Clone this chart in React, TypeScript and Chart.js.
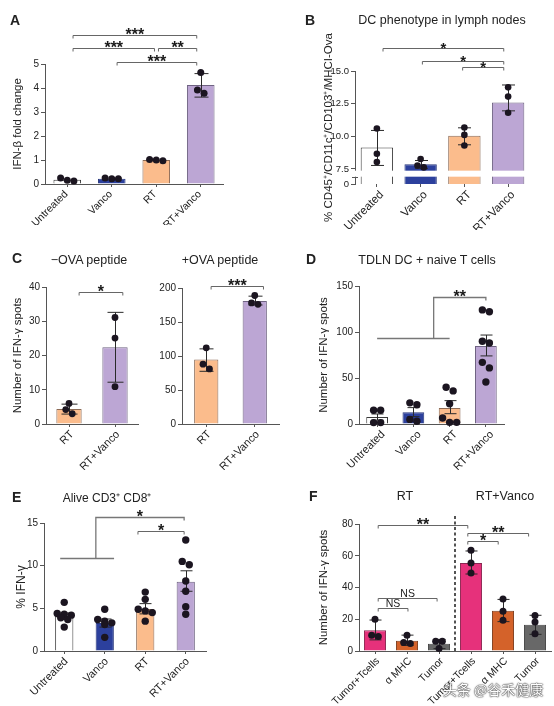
import React, { useEffect, useRef } from 'react';
import { Chart, registerables } from 'chart.js';
Chart.register(...registerables);

const FONT = "'Liberation Sans', Arial, Helvetica, sans-serif";
Chart.defaults.font.family = FONT;
Chart.defaults.color = '#222';

const AXIS = '#555';
const BRACKET = '#666';
const TXT = '#222';
const DOT = '#1b1520';

// ---------- colours ----------
const FILL4 = ['#ffffff', '#2c409d', '#fbbc8c', '#bca6d4'];
const EDGE4 = ['#3a3a3a', '#27367a', '#8b6a55', '#6f6382'];
const FILL2 = ['#fbbc8c', '#bca6d4'];
const EDGE2 = ['#8b6a55', '#6f6382'];
const FILLF = ['#e6317b', '#d4622a', '#686868', '#e6317b', '#d4622a', '#686868'];
const EDGEF = ['#8a2550', '#7e3d1e', '#444444', '#8a2550', '#7e3d1e', '#444444'];

// ---------- Panel A ----------
const groupsA = ['Untreated', 'Vanco', 'RT', 'RT+Vanco'];
const barsA = [0.18, 0.22, 1.0, 4.12];
const dotsA = [[0.25, 0.16, 0.12], [0.25, 0.22, 0.22], [0.97, 1.02, 1.0], [4.65, 3.92, 3.78]];
const errA = [null, null, null, [3.62, 4.6]];
const ticksA = [0, 1, 2, 3, 4, 5];

// ---------- Panel B ----------
const groupsB = ['Untreated', 'Vanco', 'RT', 'RT+Vanco'];
const barsB = [9.15, 7.87, 10.04, 12.58];
const dotsB = [[10.6, 8.66, 8.03], [8.26, 7.77, 7.62], [10.67, 10.11, 9.3], [13.75, 13.04, 11.8]];
const errB = [[7.77, 10.45], [7.55, 8.15], [9.35, 10.65], [11.95, 13.93]];
const ticksB = [0, 7.5, 10, 12.5, 15];
const breakBaseB = 6.35; // value at which the broken axis shows "0"

// ---------- Panel C ----------
const groupsC = ['RT', 'RT+Vanco'];
const barsC1 = [4.4, 22.4];
const dotsC1 = [[6.0, 4.2, 3.0], [31.1, 25.1, 10.9]];
const errC1 = [[2.9, 5.8], [12.2, 32.6]];
const ticksC1 = [0, 10, 20, 30, 40];
const barsC2 = [95, 181];
const dotsC2 = [[112, 88, 81], [189, 178, 176]];
const errC2 = [[77.5, 110.5], [175, 188]];
const ticksC2 = [0, 50, 100, 150, 200];

// ---------- Panel D ----------
const groupsD = ['Untreated', 'Vanco', 'RT', 'RT+Vanco'];
const barsD = [7.6, 12.7, 17.4, 84.8];
const dotsD = [[15, 15, 1.5, 1.5], [23, 21, 5, 3], [40, 36, 22, 6.5, 1.8, 1.8], [124, 122, 90, 88, 67, 61, 45.6]];
const errD = [[4.2, 10.9], [8.0, 17.8], [11.2, 25.4], [74, 96.7]];
const ticksD = [0, 50, 100, 150];

// ---------- Panel E ----------
const groupsE = ['Untreated', 'Vanco', 'RT', 'RT+Vanco'];
const barsE = [4.06, 3.28, 4.92, 8.12];
const dotsE = [[5.7, 4.4, 4.3, 4.2, 3.9, 3.7, 2.8], [4.9, 3.7, 3.5, 3.3, 3.1, 1.6], [6.9, 6.05, 4.9, 4.7, 4.5, 3.5], [13.0, 10.5, 10.1, 8.2, 7.0, 5.2, 4.3]];
const errE = [[3.7, 4.45], [2.8, 3.75], [4.35, 5.55], [7.0, 9.4]];
const ticksE = [0, 5, 10, 15];

// ---------- Panel F ----------
const groupsF = ['Tumor+Tcells', 'α MHC', 'Tumor', 'Tumor+Tcells', 'α MHC', 'Tumor'];
const barsF = [13, 6.5, 4.6, 55.5, 25.4, 16.6];
const dotsF = [[20, 9.9, 9.2], [10, 5.4, 4.8], [6.1, 6.1, 1.5], [63.4, 55.4, 49.2], [32.8, 25, 19.3], [22.3, 18.3, 10.9]];
const errF = [[7, 19.5], [3.5, 10], [1.5, 7.3], [48.5, 63], [18.5, 32.5], [10.5, 22.5]];
const ticksF = [0, 20, 40, 60, 80];

type Bracket = { x1: number; x2: number; y: number; text: string };
type Group = { x1: number; x2: number; xv: number; yLow: number; yHigh: number; target: number; text: string };

const bracketsA: Bracket[] = [
  { x1: 0.13, x2: 2.91, y: 6.2, text: '***' },
  { x1: 0.13, x2: 1.96, y: 5.65, text: '***' },
  { x1: 2.05, x2: 2.91, y: 5.65, text: '**' },
  { x1: 1.12, x2: 2.91, y: 5.08, text: '***' },
];
const bracketsB: Bracket[] = [
  { x1: 0.14, x2: 2.9, y: 16.76, text: '*' },
  { x1: 1.04, x2: 2.9, y: 15.77, text: '*' },
  { x1: 1.96, x2: 2.9, y: 15.3, text: '*' },
];
const bracketsC1: Bracket[] = [{ x1: 0.22, x2: 1.17, y: 38.4, text: '*' }];
const bracketsC2: Bracket[] = [{ x1: 0.1, x2: 1.18, y: 203, text: '***' }];
const groupsDsig: Group[] = [{ x1: 0, x2: 2, xv: 1.56, yLow: 93.5, yHigh: 138, target: 3, text: '**' }];
const groupsEsig: Group[] = [{ x1: -0.1, x2: 1.23, xv: 0.78, yLow: 10.9, yHigh: 15.7, target: 2.96, text: '*' }];
const bracketsE: Bracket[] = [{ x1: 1.82, x2: 2.96, y: 14.05, text: '*' }];
const bracketsF: Bracket[] = [
  { x1: 0.1, x2: 2.9, y: 79.4, text: '**' },
  { x1: 2.9, x2: 4.8, y: 74.3, text: '**' },
  { x1: 2.9, x2: 3.85, y: 69.3, text: '*' },
  { x1: 0.1, x2: 1.94, y: 33.4, text: 'NS' },
  { x1: 0.1, x2: 1.03, y: 27.1, text: 'NS' },
];

interface Spec {
  left: number; top: number; width: number; height: number;
  area: { left: number; right: number; top: number; bottom: number };
  labels: string[]; bars: number[]; dots: number[][]; errs: (number[] | null)[];
  fill: string[]; edge: string[]; barPct: number;
  yMin: number; yMax: number; yTicks: number[]; fmt?: (v: number) => string;
  yTitle: string; yTitleX: number;
  tickFont: number; xFont: number; titleFont: number; starFont: number; labelShift: number;
  brackets: Bracket[]; groups?: Group[];
  dotR: number; capW: number; xBorder: boolean;
  breakBand?: [number, number];
  dash?: { x: number; y1: number; y2: number };
}

const PANELS: Spec[] = [
  {
    left: 0, top: 0, width: 277, height: 225,
    area: { left: 45, right: 223, top: 64, bottom: 184 },
    labels: groupsA, bars: barsA, dots: dotsA, errs: errA, fill: FILL4, edge: EDGE4, barPct: 0.62,
    yMin: 0, yMax: 5, yTicks: ticksA, yTitle: 'IFN-β fold change', yTitleX: 18,
    tickFont: 10, xFont: 10.5, titleFont: 11.5, starFont: 16, labelShift: -1,
    brackets: bracketsA, dotR: 3.5, capW: 7, xBorder: true,
  },
  {
    left: 277, top: 0, width: 277, height: 230,
    area: { left: 355, right: 530, top: 71, bottom: 184 },
    labels: groupsB, bars: barsB, dots: dotsB, errs: errB, fill: FILL4, edge: EDGE4, barPct: 0.74,
    yMin: breakBaseB, yMax: 15, yTicks: ticksB,
    fmt: (v: number) => (v === breakBaseB ? '0' : v.toFixed(1)),
    yTitle: '% CD45⁺/CD11c⁺/CD103⁺/MHCI-Ova', yTitleX: 329,
    tickFont: 9.5, xFont: 11.5, titleFont: 11.5, starFont: 15, labelShift: 5,
    brackets: bracketsB, dotR: 3.3, capW: 6.5, xBorder: false, breakBand: [6.91, 7.37],
  },
  {
    left: 0, top: 225, width: 140, height: 245,
    area: { left: 46, right: 138, top: 287, bottom: 424 },
    labels: groupsC, bars: barsC1, dots: dotsC1, errs: errC1, fill: FILL2, edge: EDGE2, barPct: 0.55,
    yMin: 0, yMax: 40, yTicks: ticksC1, yTitle: 'Number of IFN-γ spots', yTitleX: 18,
    tickFont: 10, xFont: 11, titleFont: 11.5, starFont: 16, labelShift: 3,
    brackets: bracketsC1, dotR: 3.4, capW: 8, xBorder: true,
  },
  {
    left: 140, top: 225, width: 150, height: 245,
    area: { left: 182, right: 279, top: 288, bottom: 424 },
    labels: groupsC, bars: barsC2, dots: dotsC2, errs: errC2, fill: FILL2, edge: EDGE2, barPct: 0.5,
    yMin: 0, yMax: 200, yTicks: ticksC2, yTitle: '', yTitleX: 0,
    tickFont: 10, xFont: 11, titleFont: 11.5, starFont: 16, labelShift: 3,
    brackets: bracketsC2, dotR: 3.4, capW: 7, xBorder: true,
  },
  {
    left: 277, top: 225, width: 277, height: 245,
    area: { left: 359, right: 504, top: 286, bottom: 424 },
    labels: groupsD, bars: barsD, dots: dotsD, errs: errD, fill: FILL4, edge: EDGE4, barPct: 0.6,
    yMin: 0, yMax: 150, yTicks: ticksD, yTitle: 'Number of IFN-γ spots', yTitleX: 324,
    tickFont: 10, xFont: 11, titleFont: 11.5, starFont: 16, labelShift: 6,
    brackets: [], groups: groupsDsig, dotR: 3.7, capW: 6, xBorder: true,
  },
  {
    left: 0, top: 470, width: 277, height: 236,
    area: { left: 44, right: 206, top: 523, bottom: 651 },
    labels: groupsE, bars: barsE, dots: dotsE, errs: errE, fill: FILL4, edge: EDGE4, barPct: 0.45,
    yMin: 0, yMax: 15, yTicks: ticksE, yTitle: '% IFN-γ', yTitleX: 22,
    tickFont: 10, xFont: 11, titleFont: 12, starFont: 16, labelShift: 2,
    brackets: bracketsE, groups: groupsEsig, dotR: 3.7, capW: 6, xBorder: true,
  },
  {
    left: 277, top: 470, width: 277, height: 236,
    area: { left: 359, right: 551, top: 524, bottom: 651 },
    labels: groupsF, bars: barsF, dots: dotsF, errs: errF, fill: FILLF, edge: EDGEF, barPct: 0.69,
    yMin: 0, yMax: 80, yTicks: ticksF, yTitle: 'Number of IFN-γ spots', yTitleX: 324,
    tickFont: 10, xFont: 10.5, titleFont: 11.5, starFont: 16, labelShift: 3,
    brackets: bracketsF, dotR: 3.5, capW: 6, xBorder: true,
    dash: { x: 2.5, y1: 0, y2: 85.7 },
  },
];

type TextItem = { text: string; x: number; y: number; size: number; bold?: boolean; center?: boolean; mark?: boolean };
const TEXTS: TextItem[] = [
  { text: 'A', x: 10, y: 13, size: 14, bold: true },
  { text: 'B', x: 305, y: 13, size: 14, bold: true },
  { text: 'C', x: 12, y: 251, size: 14, bold: true },
  { text: 'D', x: 306, y: 252, size: 14, bold: true },
  { text: 'E', x: 12, y: 490, size: 14, bold: true },
  { text: 'F', x: 309, y: 489, size: 14, bold: true },
  { text: 'DC phenotype in lymph nodes', x: 442, y: 20, size: 12.5, center: true },
  { text: '−OVA peptide', x: 89, y: 260, size: 12.5, center: true },
  { text: '+OVA peptide', x: 220, y: 260, size: 12.5, center: true },
  { text: 'TDLN DC + naive T cells', x: 427, y: 260, size: 12.5, center: true },
  { text: 'Alive CD3⁺ CD8⁺', x: 107, y: 498, size: 12, center: true },
  { text: 'RT', x: 405, y: 496, size: 12.5, center: true },
  { text: 'RT+Vanco', x: 505, y: 496, size: 12.5, center: true },
  { text: '头条 @谷禾健康', x: 493, y: 689, size: 14, center: true, mark: true },
];

function layoutDots(vals: number[], Y: (v: number) => number, r: number) {
  const sorted = vals.map((v) => ({ v, y: Y(v) })).sort((a, b) => a.y - b.y);
  const rows: { v: number; y: number }[][] = [];
  for (const d of sorted) {
    const row = rows[rows.length - 1];
    if (row && row.length < 3 && d.y - row[0].y < r * 1.7) row.push(d);
    else rows.push([d]);
  }
  const out: { dx: number; y: number }[] = [];
  rows.forEach((row) => row.forEach((d, k) => out.push({ dx: (k - (row.length - 1) / 2) * r * 1.9, y: d.y })));
  return out;
}

function makeOverlay(s: Spec) {
  return {
    id: 'overlay',
    afterDatasetsDraw(chart: any) {
      const ctx: CanvasRenderingContext2D = chart.ctx;
      const xs = chart.scales.x;
      const ys = chart.scales.y;
      const ca = chart.chartArea;
      const X = (i: number) => xs.getPixelForValue(i);
      const Y = (v: number) => ys.getPixelForValue(v);
      const line = (x1: number, y1: number, x2: number, y2: number) => {
        ctx.beginPath(); ctx.moveTo(x1, y1); ctx.lineTo(x2, y2); ctx.stroke();
      };
      ctx.save();
      if (s.breakBand) {
        const yt = Y(s.breakBand[1]);
        const yb = Y(s.breakBand[0]);
        ctx.fillStyle = '#ffffff';
        ctx.fillRect(ca.left - 2, yt, ca.right - ca.left + 4, yb - yt);
        ctx.strokeStyle = AXIS; ctx.lineWidth = 1;
        line(ca.left - 3, Math.round(yb) + 0.5, ca.left + 3, Math.round(yb) + 0.5);
      }
      if (s.dash) {
        ctx.strokeStyle = '#2a2a2a'; ctx.lineWidth = 1.6; ctx.setLineDash([3, 2.5]);
        const x = X(s.dash.x);
        line(x, Y(s.dash.y1), x, Y(s.dash.y2));
        ctx.setLineDash([]);
      }
      // error bars
      ctx.strokeStyle = '#2a2a2a'; ctx.lineWidth = 1;
      s.errs.forEach((e, i) => {
        if (!e) return;
        const x = Math.round(X(i)) + 0.5;
        const yl = Y(e[0]);
        const yh = Y(e[1]);
        line(x, yl, x, yh);
        line(x - s.capW, yl, x + s.capW, yl);
        line(x - s.capW, yh, x + s.capW, yh);
      });
      // dots
      ctx.fillStyle = DOT;
      s.dots.forEach((vals, i) => {
        const cx = X(i);
        for (const d of layoutDots(vals, Y, s.dotR)) {
          ctx.beginPath(); ctx.arc(cx + d.dx, d.y, s.dotR, 0, Math.PI * 2); ctx.fill();
        }
      });
      // significance
      const label = (x: number, y: number, t: string) => {
        ctx.fillStyle = '#1a1a1a';
        ctx.textAlign = 'center';
        ctx.textBaseline = 'alphabetic';
        if (t.includes('*')) {
          ctx.font = `bold ${s.starFont}px ${FONT}`;
          ctx.fillText(t, x, y + s.starFont * 0.27);
        } else {
          ctx.font = `10.5px ${FONT}`;
          ctx.fillText(t, x, y - 2);
        }
      };
      ctx.strokeStyle = BRACKET; ctx.lineWidth = 1;
      const drop = 3;
      for (const b of s.brackets) {
        const x1 = X(b.x1); const x2 = X(b.x2); const y = Math.round(Y(b.y)) + 0.5;
        ctx.beginPath(); ctx.moveTo(x1, y + drop); ctx.lineTo(x1, y); ctx.lineTo(x2, y); ctx.lineTo(x2, y + drop); ctx.stroke();
        label((x1 + x2) / 2, y, b.text);
      }
      for (const g of s.groups ?? []) {
        ctx.strokeStyle = '#777'; ctx.lineWidth = 1.3;
        const yl = Math.round(Y(g.yLow)) + 0.5; const yh = Math.round(Y(g.yHigh)) + 0.5;
        const xv = X(g.xv); const xt = X(g.target);
        line(X(g.x1), yl, X(g.x2), yl);
        ctx.beginPath(); ctx.moveTo(xv, yl); ctx.lineTo(xv, yh); ctx.lineTo(xt, yh); ctx.lineTo(xt, yh + drop); ctx.stroke();
        label((xv + xt) / 2, yh, g.text);
      }
      ctx.restore();
    },
  };
}

function buildConfig(s: Spec): any {
  const lh = s.titleFont * 1.2;
  return {
    type: 'bar',
    data: {
      labels: s.labels,
      datasets: [{
        data: s.bars, backgroundColor: s.fill, borderColor: s.edge, borderWidth: 1,
        borderSkipped: 'start', barPercentage: s.barPct, categoryPercentage: 1,
      }],
    },
    options: {
      animation: false,
      responsive: false,
      events: [],
      layout: { padding: { left: 0, top: s.area.top - s.top, right: s.left + s.width - s.area.right, bottom: 0 } },
      plugins: { legend: { display: false }, tooltip: { enabled: false }, title: { display: false } },
      scales: {
        x: {
          type: 'category', offset: true,
          grid: { display: true, offset: false, drawOnChartArea: false, drawTicks: true, tickLength: 3, color: AXIS },
          border: { display: s.xBorder, color: AXIS, width: 1 },
          ticks: { autoSkip: false, minRotation: 45, maxRotation: 45, padding: 1, labelOffset: s.labelShift, color: TXT, font: { size: s.xFont } },
          afterFit: (sc: any) => { sc.height = s.top + s.height - s.area.bottom; },
        },
        y: {
          type: 'linear', min: s.yMin, max: s.yMax,
          afterBuildTicks: (sc: any) => { sc.ticks = s.yTicks.map((v) => ({ value: v === 0 ? s.yMin : v })); },
          grid: { display: true, drawOnChartArea: false, drawTicks: true, tickLength: 4, color: AXIS },
          border: { display: true, color: AXIS, width: 1 },
          ticks: { padding: 2, color: TXT, font: { size: s.tickFont }, callback: (v: any) => (s.fmt ? s.fmt(Number(v)) : String(v)) },
          title: s.yTitle
            ? { display: true, text: s.yTitle, color: TXT, font: { size: s.titleFont }, padding: { top: s.yTitleX - s.left - lh / 2, bottom: 0 } }
            : { display: false },
          afterFit: (sc: any) => { sc.width = s.area.left - s.left; },
        },
      },
    },
    plugins: [makeOverlay(s)],
  };
}

function ChartPanel({ spec }: { spec: Spec }) {
  const ref = useRef<HTMLCanvasElement>(null);
  useEffect(() => {
    const chart = new Chart(ref.current as HTMLCanvasElement, buildConfig(spec));
    return () => chart.destroy();
  }, [spec]);
  return (
    <canvas
      ref={ref}
      width={spec.width}
      height={spec.height}
      style={{ position: 'absolute', left: spec.left, top: spec.top, width: spec.width, height: spec.height }}
    />
  );
}

export default function App() {
  return (
    <div style={{ position: 'fixed', left: 0, top: 0, width: 554, height: 706, background: '#fff', overflow: 'hidden', fontFamily: FONT, color: TXT }}>
      {PANELS.map((p, i) => <ChartPanel key={i} spec={p} />)}
      {TEXTS.map((t, i) => (
        <div
          key={'t' + i}
          style={{
            position: 'absolute', left: t.x, top: t.y, whiteSpace: 'nowrap', lineHeight: 1,
            fontSize: t.size, fontWeight: t.bold ? 700 : 400,
            transform: t.center ? 'translate(-50%, -50%)' : undefined,
            fontFamily: t.mark ? "'Noto Sans CJK SC', " + FONT : FONT,
            color: t.mark ? '#ffffff' : TXT,
            textShadow: t.mark ? '0 0 1px #333, 0 0 1px #333, 0 0 2px #555' : undefined,
          }}
        >
          {t.text}
        </div>
      ))}
    </div>
  );
}
